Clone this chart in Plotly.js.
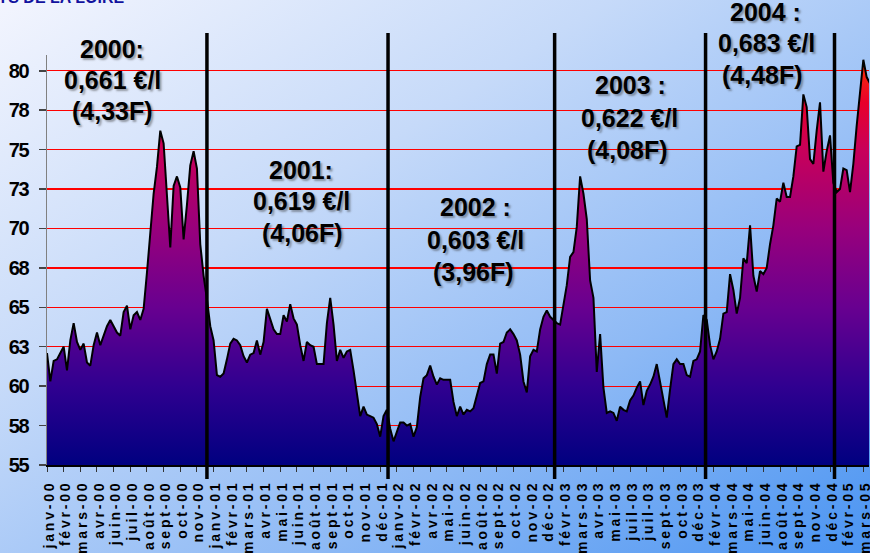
<!DOCTYPE html>
<html><head><meta charset="utf-8">
<script src="https://cdn.plot.ly/plotly-3.0.1.min.js"></script>
<style>
html,body{margin:0;padding:0;}
body{width:870px;height:553px;overflow:hidden;background:linear-gradient(to bottom right,#F3F5FE 0%,#C6DAF9 35%,#8DB9F5 68%,#4A94F2 100%);}
#chart{width:870px;height:553px;}
.xtick text{letter-spacing:2.8px;}
.ytick text{letter-spacing:-1.2px;}
</style></head><body><div id="chart"></div>
<script>
// Month labels shown under the axis (one every 5 data points)
const tickLabels = ['janv-00','févr-00','mars-00','avr-00','juin-00','juil-00','août-00','sept-00','oct-00','nov-00',
  'janv-01','févr-01','mars-01','avr-01','mai-01','juin-01','août-01','sept-01','oct-01','nov-01','déc-01',
  'janv-02','févr-02','avr-02','mai-02','juin-02','août-02','sept-02','oct-02','nov-02','déc-02',
  'févr-03','mars-03','avr-03','mai-03','juil-03','juil-03','sept-03','oct-03','déc-03',
  'févr-04','mars-04','mai-04','juin-04','août-04','sept-04','nov-04','déc-04',
  'févr-05','mars-05'];

// Price series (c€/l)
const prices = [
 62.1,60.3,61.6,61.7,62.1,62.5,61.0,62.9,64.0,62.8,
 62.3,62.7,61.5,61.3,62.6,63.4,62.6,63.2,63.8,64.2,
 63.8,63.4,63.2,64.7,65.1,63.6,64.5,64.7,64.2,64.9,
 67.2,70.0,72.2,73.9,76.2,75.4,71.9,68.8,72.7,73.3,
 72.6,69.3,71.5,74.0,74.9,73.8,69.0,67.0,65.5,63.8,
 62.9,60.7,60.6,60.8,61.7,62.7,63.0,62.9,62.6,61.9,
 61.5,62.0,62.1,62.9,62.0,62.8,64.9,64.2,63.6,63.3,
 63.3,64.5,64.1,65.2,64.3,63.9,62.6,61.6,62.8,62.6,
 62.5,61.4,61.4,61.4,64.0,65.6,63.9,61.6,62.3,61.8,
 62.2,62.3,61.0,59.6,58.1,58.7,58.2,58.1,58.0,57.6,
 56.8,58.1,58.5,57.3,56.5,57.1,57.7,57.7,57.5,57.6,
 56.8,57.4,59.3,60.5,60.7,61.3,60.6,60.1,60.5,60.4,
 60.4,60.4,59.0,58.1,58.7,58.2,58.5,58.4,58.6,59.5,
 60.2,60.3,61.4,62.0,62.0,60.8,62.7,62.8,63.4,63.6,
 63.3,62.9,62.0,60.3,59.6,61.9,62.3,62.2,63.6,64.4,
 64.8,64.4,64.2,64.0,63.9,65.2,66.4,68.2,68.5,70.1,
 73.3,72.2,70.6,66.7,65.6,60.9,63.3,59.9,58.3,58.4,
 58.3,57.8,58.7,58.5,58.4,59.1,59.4,59.9,60.3,58.8,
 59.7,60.1,60.6,61.4,60.2,59.1,58.0,59.8,61.4,61.7,
 61.4,61.4,60.7,60.6,61.6,61.7,62.2,64.5,64.2,62.6,
 61.7,62.2,63.0,64.6,64.7,67.1,66.1,64.6,65.6,68.1,
 67.8,70.2,67.0,66.0,67.3,67.1,67.5,69.0,70.2,71.9,
 71.7,72.9,72.0,72.0,73.3,75.2,75.3,78.5,77.7,74.4,
 74.1,76.2,78.0,73.6,74.9,75.9,72.9,72.3,72.5,73.8,
 73.7,72.3,74.1,76.5,78.4,80.7,79.6,79.2];

const pointsPerLabel = 5;
const yTickVals = [55,57.5,60,62.5,65,67.5,70,72.5,75,77.5,80];
const yTickText = ['55','58','60','63','65','68','70','73','75','78','80'];
// Year boundaries, in data-point units
const yearBreaks = [48, 102.35, 152.35, 197.65, 236.35];
// Yearly averages
const yearNotes = [
  ['2000:', '0,661 €/l', '(4,33F)'],
  ['2001:', '0,619 €/l', '(4,06F)'],
  ['2002 :', '0,603 €/l', '(3,96F)'],
  ['2003 :', '0,622 €/l', '(4,08F)'],
  ['2004 :', '0,683 €/l', '(4,48F)']
];

// ---- layout helpers (pixel -> paper) ----
const L = 47, R = 869, T = 55, B = 465;
const px = x => (x - L) / (R - L);
const py = y => (B - y) / (B - T);
const notePos = [
  [[111.5,49],[112,80],[112,111]],
  [[301,170],[301,201],[302,233]],
  [[475,207],[475,240],[473,272]],
  [[630,85],[629,118],[627,150]],
  [[765,12],[766,43],[762,75]]
];

const xs = prices.map((_, i) => i);
const tickVals = tickLabels.map((_, i) => i * pointsPerLabel);

const trace = {
  x: xs, y: prices, type: 'scatter', mode: 'lines',
  line: {color: '#000000', width: 2},
  fill: 'tozeroy',
  fillgradient: {
    type: 'vertical', start: 55, stop: 81,
    colorscale: [[0,'#000080'],[0.192,'#300090'],[0.385,'#680090'],[0.577,'#98007C'],[0.769,'#C8005A'],[0.885,'#E8002A'],[1,'#FF3A00']]
  },
  hoverinfo: 'skip'
};

const annotations = [];
yearNotes.forEach((lines, i) => {
  lines.forEach((t, j) => {
    annotations.push({
      text: t, xref: 'paper', yref: 'paper',
      x: px(notePos[i][j][0]), y: py(notePos[i][j][1]),
      xanchor: 'center', yanchor: 'middle', showarrow: false,
      font: {family: 'Liberation Sans, Arial, sans-serif', size: 25, color: '#000', weight: 'bold',
             shadow: '2px 2px 2px rgba(60,60,60,0.45)'}
    });
  });
});
annotations.push({
  text: 'PAYS DE LA LOIRE', xref: 'paper', yref: 'paper',
  x: px(-24), y: py(-3), xanchor: 'left', yanchor: 'middle', showarrow: false,
  font: {family: 'Liberation Sans, Arial, sans-serif', size: 16, color: '#12129E', weight: 'bold'}
});

const shapes = yearBreaks.map(b => ({
  type: 'line', xref: 'x', yref: 'paper', x0: b, x1: b,
  y0: py(479), y1: py(33), line: {color: '#000', width: 3.5}, layer: 'above'
}));

const layout = {
  width: 870, height: 553,
  margin: {l: L, r: 870 - R, t: T, b: 553 - B},
  paper_bgcolor: 'rgba(0,0,0,0)', plot_bgcolor: 'rgba(0,0,0,0)',
  showlegend: false,
  xaxis: {
    range: [0, 246.7], tickmode: 'array', tickvals: tickVals, ticktext: tickLabels,
    tickangle: -90, ticks: 'outside', ticklen: 5, tickcolor: '#333', tickwidth: 1,
    showline: true, linecolor: '#000', linewidth: 2, showgrid: false, zeroline: false,
    tickfont: {family: 'Liberation Sans, Arial, sans-serif', size: 14, color: '#000', weight: 'bold'},
    ticklabelstandoff: 3, ticklabelshift: 2, ticklabeloverflow: 'allow'
  },
  yaxis: {
    range: [55, 81], tickmode: 'array', tickvals: yTickVals, ticktext: yTickText,
    ticks: 'outside', ticklen: 7, tickcolor: '#444', tickwidth: 1.5,
    showline: true, linecolor: '#808080', linewidth: 1.5,
    showgrid: true, gridcolor: '#FF0000', gridwidth: 1.3, zeroline: false,
    tickfont: {family: 'Liberation Sans, Arial, sans-serif', size: 20, color: '#000', weight: 'bold'},
    ticklabelstandoff: 6
  },
  annotations: annotations,
  shapes: shapes
};

Plotly.newPlot('chart', [trace], layout, {displayModeBar: false, staticPlot: true});
</script></body></html>
